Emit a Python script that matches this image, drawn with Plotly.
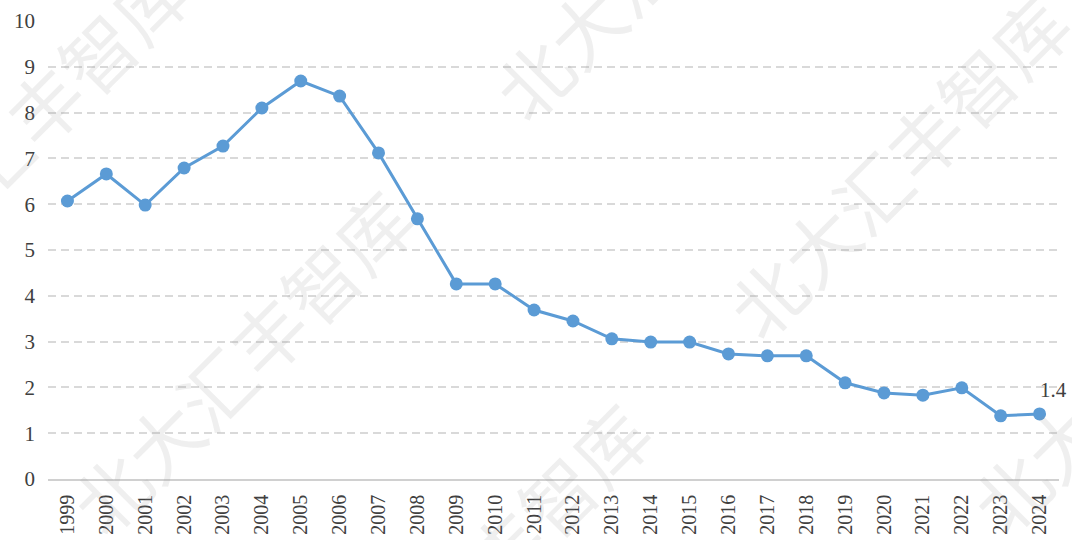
import plotly.graph_objects as go

years = [str(y) for y in range(1999, 2025)]
values = [6.07, 6.66, 5.98, 6.79, 7.27, 8.10, 8.69, 8.36, 7.12, 5.68,
          4.26, 4.26, 3.69, 3.45, 3.06, 2.99, 2.99, 2.73, 2.69, 2.69,
          2.10, 1.88, 1.83, 1.99, 1.38, 1.42]
y_ticks = list(range(0, 11))
watermark_text = "北大汇丰智库"
# watermark centres in pixel space of the 1072x540 canvas
watermark_px = [(240, 360), (17, 130), (663, -53), (897, 165), (477, 573), (1140, 360)]

W, H = 1072, 540
ML, MR, MT, MB = 48, 13, 21, 61
PW, PH = W - ML - MR, H - MT - MB

FONT = "Liberation Serif"
BLUE = "#5b9bd5"

fig = go.Figure()
fig.add_trace(go.Scatter(
    x=years, y=values, mode="lines+markers",
    line=dict(color=BLUE, width=3),
    marker=dict(color=BLUE, size=13),
    hoverinfo="x+y", showlegend=False,
))

annotations = []
for (px, py) in watermark_px:
    annotations.append(dict(
        text=watermark_text, xref="paper", yref="paper",
        x=(px - ML) / PW, y=(H - MB - py) / PH,
        xanchor="center", yanchor="middle", showarrow=False, textangle=-45,
        font=dict(family="Noto Sans CJK SC", size=74, color="rgba(150,150,150,0.15)"),
    ))

annotations.append(dict(
    x=len(years) - 1, y=values[-1], xref="x", yref="y",
    text=f"{values[-1]:.1f}", showarrow=False,
    xanchor="center", yanchor="middle", xshift=14, yshift=24,
    font=dict(family=FONT, size=21, color="#404040"),
))

fig.update_layout(
    width=W, height=H,
    margin=dict(l=ML, r=MR, t=MT, b=MB, autoexpand=False),
    paper_bgcolor="white", plot_bgcolor="white",
    annotations=annotations,
    xaxis=dict(
        type="category", tickangle=-90, range=[-0.5, len(years) - 0.5],
        automargin=False,
        showgrid=False, zeroline=False,
        showline=True, linecolor="#d0d0d0", linewidth=1.5,
        ticks="outside", ticklen=6, tickcolor="rgba(0,0,0,0)",
        tickfont=dict(family=FONT, size=20, color="#404040"),
    ),
    yaxis=dict(
        range=[0, 10], tickvals=y_ticks, automargin=False,
        showgrid=True, gridcolor="#d9d9d9", gridwidth=1.5, griddash="8px,5px",
        zeroline=False, showline=False,
        ticklabelstandoff=12,
        tickfont=dict(family=FONT, size=21, color="#404040"),
    ),
)

fig.write_html(
    "out.html",
    config={"displayModeBar": False},
    post_script="document.body.style.margin='0';document.body.style.padding='0';document.body.style.overflow='hidden';",
)
